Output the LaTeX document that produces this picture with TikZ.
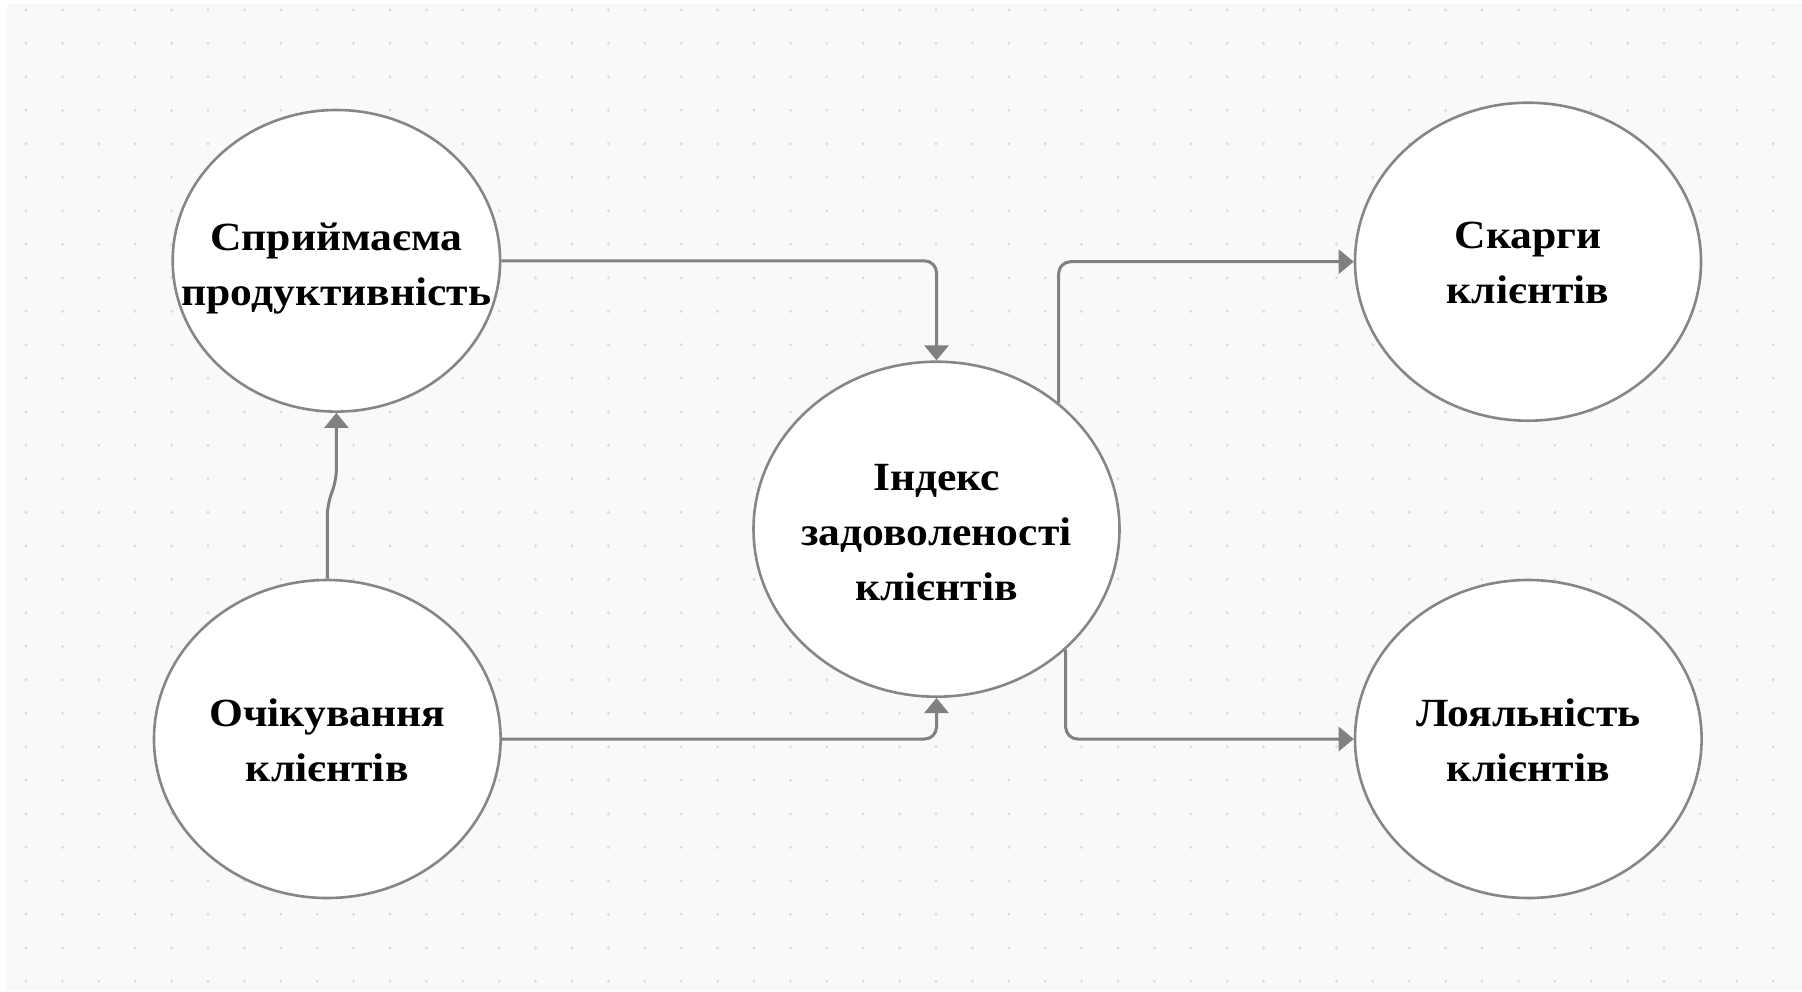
\documentclass[tikz,border=0pt]{standalone}
\usepackage{fontspec}
\usepackage{graphicx}
\setmainfont{Liberation Serif}
\usetikzlibrary{shapes.geometric,arrows.meta,calc}
\definecolor{canvasbg}{HTML}{F9F9FB}
\definecolor{griddot}{HTML}{DCDCDF}
\definecolor{edgegray}{HTML}{808080}
\definecolor{rimgray}{HTML}{868686}
% wide bold two- or three-line caption
\newcommand{\captext}[1]{\scalebox{1.09}[1]{\begin{tabular}[t]{@{}c@{}}#1\end{tabular}}}

\begin{document}
\begin{tikzpicture}[x=1pt,y=-1pt,
  bubble/.style={ellipse, draw=rimgray, line width=2.6pt, fill=white, inner sep=0pt},
  caption/.style={anchor=base, inner sep=0pt, font=\fontsize{40}{55}\selectfont\bfseries},
  conn/.style={draw=edgegray, line width=3pt, rounded corners=12pt,
               -{Triangle[length=15pt,width=24pt]}}
]
\useasboundingbox (0,0) rectangle (1802,991);

% canvas with dotted grid
\fill[white] (0,0) rectangle (1802,991);
\fill[canvasbg] (7,4) rectangle (1802,991);
\foreach \i in {0,...,48}
  \foreach \j in {0,...,29}
    \fill[griddot] (26+36.4*\i, 9.8+33.5*\j) circle (1.6);

% concepts
\node[bubble, minimum width=327.4pt, minimum height=301.6pt] (perf)   at (336.4,260.8) {};
\node[bubble, minimum width=346.6pt, minimum height=318pt]   (expect) at (327.3,739)   {};
\node[bubble, minimum width=366pt,   minimum height=335pt]   (csi)    at (936.5,529.2) {};
\node[bubble, minimum width=346pt,   minimum height=318pt]   (compl)  at (1528,261.7)  {};
\node[bubble, minimum width=346.6pt, minimum height=318pt]   (loyal)  at (1528.3,739)  {};

% captions
\node[caption] (perf-t)   at (336.4,250)   {\captext{Сприймаєма\\продуктивність}};
\node[caption] (expect-t) at (327.3,726.7) {\captext{Очікування\\клієнтів}};
\node[caption] (csi-t)    at (936.5,490)   {\captext{Індекс\\задоволеності\\клієнтів}};
\node[caption] (compl-t)  at (1528,248.3)  {\captext{Скарги\\клієнтів}};
\node[caption] (loyal-t)  at (1528.3,726.7){\captext{Лояльність\\клієнтів}};

% links
\draw[conn] (perf.east) -| (csi.north);
\draw[conn] (expect.east) -| (csi.south);
\draw[conn] (csi.46.3) |- (compl.west);
\draw[conn] (csi.-43.5) |- (loyal.west);
\draw[conn] (expect.north) -- ++(0,-75) -- ($(perf.south)+(0,68.4)$) -- (perf.south);
\end{tikzpicture}
\end{document}
